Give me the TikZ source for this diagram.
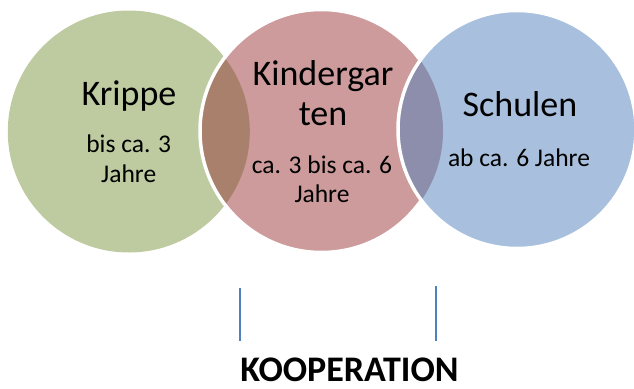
\documentclass[tikz,border=0pt]{standalone}
\usepackage{fontspec}
\setmainfont{Carlito}
\definecolor{cgreen}{RGB}{190,203,160}
\definecolor{cpink}{RGB}{205,155,155}
\definecolor{cblue}{RGB}{168,192,222}
\definecolor{cbrown}{RGB}{168,128,108}
\definecolor{cpurple}{RGB}{140,142,172}
\definecolor{cline}{RGB}{79,129,189}
\tikzset{
  title/.style={anchor=base, inner sep=0pt, font=\fontsize{36}{40}\selectfont},
  sub/.style={anchor=base, inner sep=0pt, font=\fontsize{25.5}{29}\selectfont},
  coop/.style={anchor=base, inner sep=0pt, font=\fontsize{36}{40}\selectfont\bfseries},
  rim/.style={draw=white, line width=3.5pt},
  bracket/.style={draw=cline, line width=1.4pt}
}
\begin{document}
\begin{tikzpicture}[x=1pt,y=-1pt]
\useasboundingbox (0,0) rectangle (634,388);
\clip (0,0) rectangle (634,388);
\coordinate (gc) at (128.8,131.5);
\coordinate (pc) at (321.5,131);
\coordinate (bc) at (517,129.5);
% green
\fill[cgreen] (gc) circle[radius=121pt];
% pink
\fill[cpink] (pc) circle[radius=121.5pt];
\begin{scope}
  \clip (gc) circle[radius=121pt];
  \fill[cbrown] (pc) circle[radius=121.5pt];
\end{scope}
\draw[rim] (pc) circle[radius=121.5pt];
% blue
\fill[cblue] (bc) circle[radius=119pt];
\begin{scope}
  \clip (pc) circle[radius=121.5pt];
  \fill[cpurple] (bc) circle[radius=119pt];
\end{scope}
\draw[rim] (bc) circle[radius=119pt];
% texts
\node[title] (kT) at (129,105) {Krippe};
\node[sub] (kS1) at (128.7,152.7) {bis ca. 3};
\node[sub] (kS2) at (128.7,182) {Jahre};
\node[title] (gT1) at (323,85) {Kindergar};
\node[title] (gT2) at (323,125) {ten};
\node[sub] (gS1) at (322,173) {ca. 3 bis ca. 6};
\node[sub] (gS2) at (322,202) {Jahre};
\node[title] (sT) at (520,116.7) {Schulen};
\node[sub] (sS) at (519,166) {ab ca. 6 Jahre};
\node[coop] (coop) at (349.5,381) {KOOPERATION};
% lines
\coordinate (l1a) at (240,288);
\coordinate (l1b) at (240,341);
\coordinate (l2a) at (436,286);
\coordinate (l2b) at (436,341);
\draw[bracket] (l1a) -- (l1b);
\draw[bracket] (l2a) -- (l2b);
\end{tikzpicture}
\end{document}
